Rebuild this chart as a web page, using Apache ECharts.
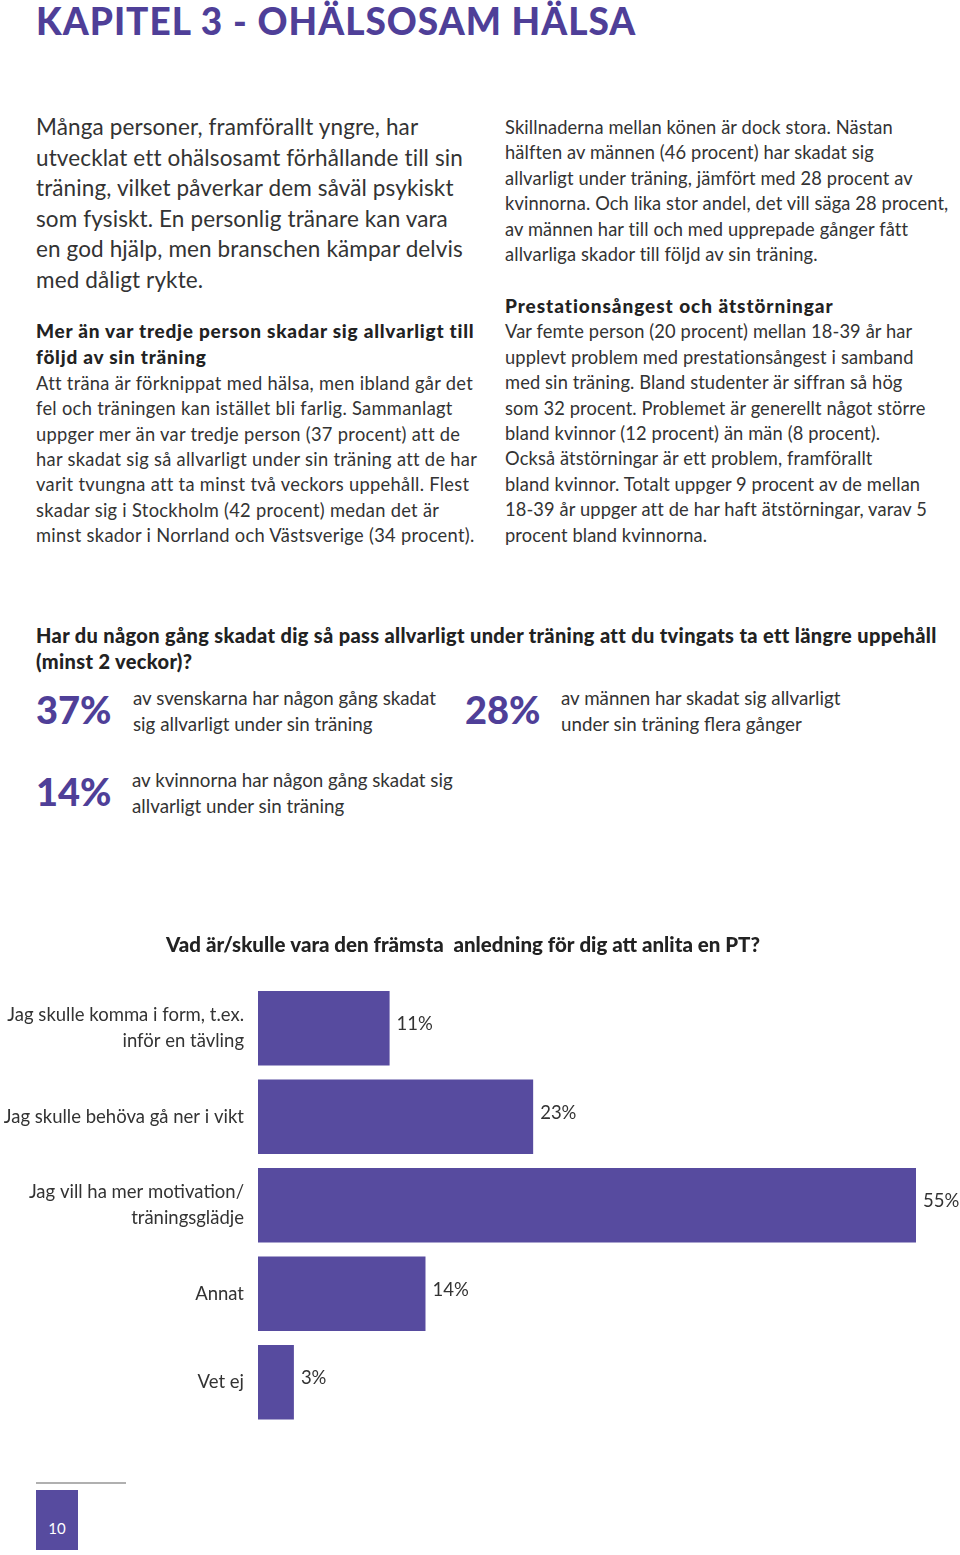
<!DOCTYPE html>
<html lang="sv">
<head>
<meta charset="utf-8">
<script src="https://cdn.jsdelivr.net/npm/echarts@6/dist/echarts.min.js"></script>
<style>
  html, body { margin: 0; padding: 0; background: #fff; }
  body { width: 960px; height: 1555px; position: relative; overflow: hidden; font-family: Lato, "Open Sans", sans-serif; color: #333; }
  .abs { position: absolute; white-space: nowrap; }
  .title { left: 36px; top: -2px; font-size: 37px; font-weight: 900; color: #4f3f98; letter-spacing: 1px; }
  .lead { left: 36px; top: 112px; font-size: 22.5px; line-height: 30.5px; font-weight: 400; letter-spacing: 0.12px; }
  .col { font-size: 18.3px; line-height: 25.4px; font-weight: 400; letter-spacing: 0.3px; }
  .col.r { letter-spacing: 0.12px; }
  .col b { font-weight: 900; color: #222; font-size: 19px; letter-spacing: 0.75px; }
  .col.r b { letter-spacing: 0.95px; }
  .q { left: 36px; top: 622px; font-size: 20px; line-height: 26px; font-weight: 900; color: #222; letter-spacing: 0.34px; }
  .big { font-size: 38px; font-weight: 900; color: #4f3f98; }
  .stxt { font-size: 18.75px; line-height: 25.5px; font-weight: 400; }
  #chart { position: absolute; left: 0; top: 920px; width: 960px; height: 520px; }
  .rule { left: 36px; top: 1482px; width: 90px; height: 2px; background: #b0b0b0; }
  .pnum { left: 36px; top: 1490px; width: 42px; height: 60px; background: #574b9f; color: #fff; font-size: 15px; text-align: center; line-height: 76px; font-weight: 400; }
</style>
</head>
<body>
<div class="abs title">KAPITEL 3 - OHÄLSOSAM HÄLSA</div>

<div class="abs lead">Många personer, framförallt yngre, har<br>utvecklat ett ohälsosamt förhållande till sin<br>träning, vilket påverkar dem såväl psykiskt<br>som fysiskt. En personlig tränare kan vara<br>en god hjälp, men branschen kämpar delvis<br>med dåligt rykte.</div>

<div class="abs col" style="left:36px; top:318px;"><b>Mer än var tredje person skadar sig allvarligt till<br>följd av sin träning</b><br>Att träna är förknippat med hälsa, men ibland går det<br>fel och träningen kan istället bli farlig. Sammanlagt<br>uppger mer än var tredje person (37 procent) att de<br>har skadat sig så allvarligt under sin träning att de har<br>varit tvungna att ta minst två veckors uppehåll. Flest<br>skadar sig i Stockholm (42 procent) medan det är<br>minst skador i Norrland och Västsverige (34 procent).</div>

<div class="abs col r" style="left:505px; top:115px;">Skillnaderna mellan könen är dock stora. Nästan<br>hälften av männen (46 procent) har skadat sig<br>allvarligt under träning, jämfört med 28 procent av<br>kvinnorna. Och lika stor andel, det vill säga 28 procent,<br>av männen har till och med upprepade gånger fått<br>allvarliga skador till följd av sin träning.</div>

<div class="abs col r" style="left:505px; top:293px;"><b>Prestationsångest och ätstörningar</b><br>Var femte person (20 procent) mellan 18-39 år har<br>upplevt problem med prestationsångest i samband<br>med sin träning. Bland studenter är siffran så hög<br>som 32 procent. Problemet är generellt något större<br>bland kvinnor (12 procent) än män (8 procent).<br>Också ätstörningar är ett problem, framförallt<br>bland kvinnor. Totalt uppger 9 procent av de mellan<br>18-39 år uppger att de har haft ätstörningar, varav 5<br>procent bland kvinnorna.</div>

<div class="abs q">Har du någon gång skadat dig så pass allvarligt under träning att du tvingats ta ett längre uppehåll<br>(minst 2 veckor)?</div>

<div id="stats"></div>

<div id="chart"></div>

<div class="abs rule"></div>
<div class="abs pnum">10</div>

<script>
// ---- data ----
const statValues = ["37%", "28%", "14%"];
const statTexts = [
  "av svenskarna har någon gång skadat<br>sig allvarligt under sin träning",
  "av männen har skadat sig allvarligt<br>under sin träning flera gånger",
  "av kvinnorna har någon gång skadat sig<br>allvarligt under sin träning"
];
const chartTitle = "Vad är/skulle vara den främsta  anledning för dig att anlita en PT?";
const categories = [
  "Jag skulle komma i form, t.ex.\ninför en tävling",
  "Jag skulle behöva gå ner i vikt",
  "Jag vill ha mer motivation/\nträningsglädje",
  "Annat",
  "Vet ej"
];
const values = [11, 23, 55, 14, 3];

// ---- stats blocks (layout) ----
const statPos = [
  { nx: 36, ny: 686, tx: 133, ty: 685 },
  { nx: 465, ny: 686, tx: 561, ty: 685 },
  { nx: 36, ny: 768, tx: 132, ty: 767 }
];
const stats = document.getElementById('stats');
statValues.forEach((v, i) => {
  const p = statPos[i];
  const n = document.createElement('div');
  n.className = 'abs big';
  n.style.left = p.nx + 'px'; n.style.top = p.ny + 'px';
  n.textContent = v;
  stats.appendChild(n);
  const t = document.createElement('div');
  t.className = 'abs stxt';
  t.style.left = p.tx + 'px'; t.style.top = p.ty + 'px';
  t.innerHTML = statTexts[i];
  stats.appendChild(t);
});

// ---- chart ----
const chart = echarts.init(document.getElementById('chart'), null, { renderer: 'canvas' });
chart.setOption({
  animation: false,
  title: {
    text: chartTitle,
    left: 458, textAlign: 'center', top: 10,
    textStyle: { fontFamily: 'Lato', fontWeight: 900, fontSize: 20.5, color: '#222' }
  },
  grid: { left: 258, right: 44, top: 64, bottom: 13.5, containLabel: false },
  xAxis: { type: 'value', min: 0, max: 55, show: false, splitLine: { show: false } },
  yAxis: {
    type: 'category', data: categories, inverse: true,
    axisLine: { show: false }, axisTick: { show: false },
    axisLabel: { fontFamily: 'Lato', fontWeight: 400, fontSize: 18.5, color: '#333', margin: 14, lineHeight: 26, align: 'right' }
  },
  series: [{
    type: 'bar', data: values, barCategoryGap: '16%',
    itemStyle: { color: '#574b9f' },
    label: {
      show: true, position: 'right', distance: 7, offset: [0, -4],
      formatter: '{c}%', fontFamily: 'Lato', fontWeight: 400, fontSize: 18.5, color: '#333'
    }
  }]
});
</script>
</body>
</html>
